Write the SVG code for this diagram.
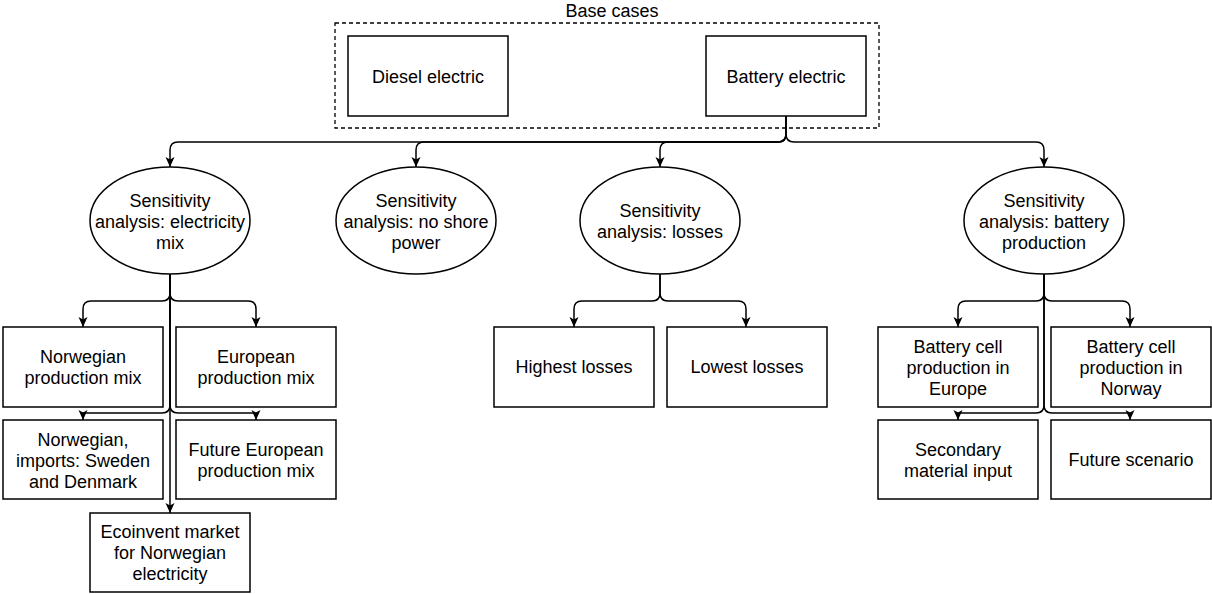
<svg xmlns="http://www.w3.org/2000/svg" width="1212" height="594" viewBox="0 0 1212 594">
  <style>
    .box { fill: #ffffff; stroke: #000000; stroke-width: 1.5; }
    .group { fill: none; stroke: #000000; stroke-width: 1.3; stroke-dasharray: 4 3; }
    .edge { fill: none; stroke: #000000; stroke-width: 1.5; marker-end: url(#arrow); }
    text { font-family: "Liberation Sans", Arial, Helvetica, sans-serif; font-size: 18px; fill: #000000; text-anchor: middle; }
  </style>
  <defs>
    <marker id="arrow" markerUnits="userSpaceOnUse" markerWidth="11" markerHeight="10" refX="10" refY="4.5" orient="auto">
      <path d="M0,0 L10,4.5 L0,9 L2.5,4.5 Z" fill="#000000"/>
    </marker>
  </defs>

  <rect width="1212" height="594" fill="#ffffff"/>

  <!-- base cases container -->
  <g id="base-cases">
    <rect class="group" x="335" y="23" width="544" height="105"/>
    <text x="612" y="17">Base cases</text>
  </g>

  <!-- connectors -->
  <g id="connectors">
    <!-- battery electric to the four sensitivity analyses -->
    <path class="edge" d="M786,116 V134 Q786,142 778,142 H178 Q170,142 170,150 V167"/>
    <path class="edge" d="M786,116 V134 Q786,142 778,142 H424 Q416,142 416,150 V167"/>
    <path class="edge" d="M786,116 V134 Q786,142 778,142 H668 Q660,142 660,150 V167"/>
    <path class="edge" d="M786,116 V134 Q786,142 794,142 H1036 Q1044,142 1044,150 V167"/>

    <!-- electricity mix -->
    <path class="edge" d="M170,274 V293 Q170,301 162,301 H91 Q83,301 83,309 V327"/>
    <path class="edge" d="M170,274 V293 Q170,301 178,301 H248 Q256,301 256,309 V327"/>
    <path class="edge" d="M170,274 V405 Q170,413 162,413 H83 V420"/>
    <path class="edge" d="M170,274 V405 Q170,413 178,413 H256 V420"/>
    <path class="edge" d="M170,274 V513"/>

    <!-- losses -->
    <path class="edge" d="M660,274 V293 Q660,301 652,301 H582 Q574,301 574,309 V327"/>
    <path class="edge" d="M660,274 V293 Q660,301 668,301 H738 Q746,301 746,309 V327"/>

    <!-- battery production -->
    <path class="edge" d="M1044,274 V293 Q1044,301 1036,301 H966 Q958,301 958,309 V327"/>
    <path class="edge" d="M1044,274 V293 Q1044,301 1052,301 H1122 Q1130,301 1130,309 V327"/>
    <path class="edge" d="M1044,274 V405 Q1044,413 1036,413 H958 V420"/>
    <path class="edge" d="M1044,274 V405 Q1044,413 1052,413 H1130 V420"/>
  </g>

  <g id="diesel-electric">
    <rect class="box" x="348" y="36" width="160" height="80"/>
    <text x="428" y="83">Diesel electric</text>
  </g>
  <g id="battery-electric">
    <rect class="box" x="706" y="36" width="160" height="80"/>
    <text x="786" y="83">Battery electric</text>
  </g>

  <g id="sa-electricity-mix">
    <ellipse class="box" cx="170" cy="220.5" rx="80" ry="53.5"/>
    <text x="170" y="207">Sensitivity</text>
    <text x="170" y="228">analysis: electricity</text>
    <text x="170" y="249">mix</text>
  </g>
  <g id="sa-no-shore-power">
    <ellipse class="box" cx="416" cy="220.5" rx="80" ry="53.5"/>
    <text x="416" y="207">Sensitivity</text>
    <text x="416" y="228">analysis: no shore</text>
    <text x="416" y="249">power</text>
  </g>
  <g id="sa-losses">
    <ellipse class="box" cx="660" cy="220.5" rx="80" ry="53.5"/>
    <text x="660" y="217">Sensitivity</text>
    <text x="660" y="238">analysis: losses</text>
  </g>
  <g id="sa-battery-production">
    <ellipse class="box" cx="1044" cy="220.5" rx="80" ry="53.5"/>
    <text x="1044" y="207">Sensitivity</text>
    <text x="1044" y="228">analysis: battery</text>
    <text x="1044" y="249">production</text>
  </g>

  <g id="norwegian-production-mix">
    <rect class="box" x="3" y="327" width="160" height="80"/>
    <text x="83" y="363">Norwegian</text>
    <text x="83" y="384">production mix</text>
  </g>
  <g id="european-production-mix">
    <rect class="box" x="176" y="327" width="160" height="80"/>
    <text x="256" y="363">European</text>
    <text x="256" y="384">production mix</text>
  </g>
  <g id="norwegian-imports">
    <rect class="box" x="3" y="420" width="160" height="79"/>
    <text x="83" y="446">Norwegian,</text>
    <text x="83" y="467">imports: Sweden</text>
    <text x="83" y="488">and Denmark</text>
  </g>
  <g id="future-european-production-mix">
    <rect class="box" x="176" y="420" width="160" height="79"/>
    <text x="256" y="456">Future European</text>
    <text x="256" y="477">production mix</text>
  </g>
  <g id="ecoinvent-market">
    <rect class="box" x="90" y="513" width="160" height="79"/>
    <text x="170" y="538">Ecoinvent market</text>
    <text x="170" y="559">for Norwegian</text>
    <text x="170" y="580">electricity</text>
  </g>

  <g id="highest-losses">
    <rect class="box" x="494" y="327" width="160" height="80"/>
    <text x="574" y="373">Highest losses</text>
  </g>
  <g id="lowest-losses">
    <rect class="box" x="667" y="327" width="160" height="80"/>
    <text x="747" y="373">Lowest losses</text>
  </g>

  <g id="cell-production-europe">
    <rect class="box" x="878" y="327" width="160" height="80"/>
    <text x="958" y="353">Battery cell</text>
    <text x="958" y="374">production in</text>
    <text x="958" y="395">Europe</text>
  </g>
  <g id="cell-production-norway">
    <rect class="box" x="1051" y="327" width="160" height="80"/>
    <text x="1131" y="353">Battery cell</text>
    <text x="1131" y="374">production in</text>
    <text x="1131" y="395">Norway</text>
  </g>
  <g id="secondary-material-input">
    <rect class="box" x="878" y="420" width="160" height="79"/>
    <text x="958" y="456">Secondary</text>
    <text x="958" y="477">material input</text>
  </g>
  <g id="future-scenario">
    <rect class="box" x="1051" y="420" width="160" height="79"/>
    <text x="1131" y="466">Future scenario</text>
  </g>
</svg>
